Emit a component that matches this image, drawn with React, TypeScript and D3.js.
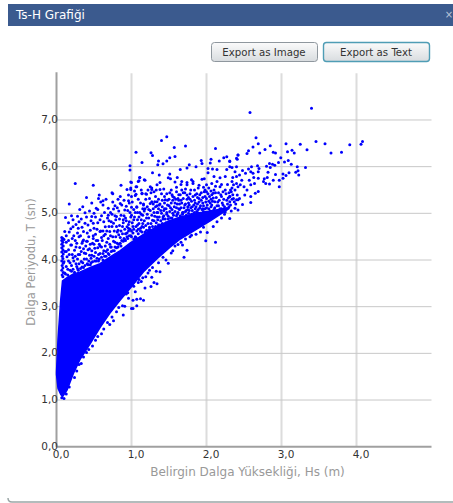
// Ts-H scatter chart
import React from 'react';
import * as d3 from 'd3';

const W = 453, H = 503;
const xTicks = [0, 1, 2, 3, 4];
const yTicks = [0, 1, 2, 3, 4, 5, 6, 7];

// --- Solid part of the cloud: too dense to read one dot at a time, so its edges are read instead ---
const coreHs = [0, 0.02, 0.056, 0.08, 0.14, 0.225, 0.31, 0.45, 0.58, 0.71, 0.85, 0.98, 1.16, 1.34, 1.51, 1.65, 1.87, 2.05, 2.3];
const coreLow = [1.55, 1.25, 1.12, 1.07, 1.21, 1.57, 1.86, 2.21, 2.55, 2.86, 3.14, 3.39, 3.75, 4.03, 4.27, 4.45, 4.66, 4.84, 5.1];
const coreHigh = [1.6, 2.3, 3.14, 3.55, 3.62, 3.7, 3.74, 3.84, 3.92, 4.06, 4.2, 4.36, 4.55, 4.72, 4.84, 4.92, 5.0, 5.05, 5.12];

// --- Single dots [Hs, T] ---
const farDots = [[2.58,7.16],[3.40,7.25],[2.66,6.62],[2.69,6.49],[2.62,6.42],[2.56,6.34],[2.54,6.28],[2.42,6.25],[2.40,6.18],[2.31,6.12],[2.78,6.37],[2.71,6.29],[2.85,6.45],[2.89,6.31],[2.92,6.29],[2.99,6.19],[2.96,6.09],[3.04,6.10],[3.06,6.49],[3.08,6.32],[3.14,6.35],[3.17,6.29],[3.09,6.13],[3.13,6.05],[3.25,6.48],[3.34,6.36],[3.46,6.54],[3.58,6.49],[3.66,6.29],[3.80,6.31],[3.91,6.47],[4.06,6.48],[4.08,6.54],[3.21,6.0],[3.32,5.98],[3.22,5.91],[3.19,5.88],[3.23,5.82],[3.10,5.87],[3.06,5.81],[3.02,5.84],[3.02,5.75],[2.97,5.71],[2.97,5.57],[2.92,5.83],[2.89,5.71],[2.84,6.07],[2.88,6.05],[2.80,6.01],[2.85,5.98],[2.91,6.03],[2.82,5.88],[2.81,5.77],[2.77,5.74],[2.84,5.63],[2.79,5.64],[2.76,5.68],[2.69,5.75],[2.70,5.96],[2.68,6.02],[2.69,5.89],[2.60,6.0],[2.56,5.95],[2.59,5.89],[2.48,5.92],[2.40,6.0],[2.31,6.0],[2.44,5.82],[2.38,5.89],[2.52,5.86],[2.62,5.86],[2.57,5.71],[2.63,5.77],[2.64,5.64],[2.59,5.61],[2.69,5.47],[2.65,5.43],[2.59,5.36],[2.59,5.23],[2.54,5.5],[2.51,5.39],[2.48,5.19],[2.45,5.61],[2.47,5.71],[2.35,5.77],[2.42,5.29],[2.50,5.57],[2.40,5.64],[2.36,5.61],[2.38,5.5],[2.33,5.46],[2.41,5.39],[2.36,5.32],[2.31,5.36],[2.37,5.25],[2.31,5.25],[2.38,5.11],[2.44,5.32]];

const upperDots = [[1.47,6.64],[1.40,6.56],[1.57,6.41],[1.72,6.44],[1.06,6.31],[1.26,6.30],[1.28,6.24],[1.14,6.09],[1.36,6.12],[1.35,6.04],[1.42,6.06],[1.47,6.12],[1.51,6.19],[1.58,6.22],[2.12,6.39],[2.06,6.16],[2.05,6.08],[2.17,6.12],[2.23,6.19],[2.27,6.21],[2.31,6.11],[2.42,6.25],[2.41,6.16],[1.93,6.13],[1.94,6.07],[1.77,6.04],[1.74,5.97],[1.86,6.0],[1.65,5.94],[2.02,5.96],[2.08,5.95],[2.14,5.94],[2.27,5.94],[2.34,5.98],[2.02,5.87],[0.98,6.02],[1.28,5.87],[1.37,5.82],[1.51,5.84],[1.49,5.76],[1.52,5.74],[1.61,5.77],[1.11,5.77],[1.18,5.71],[1.10,5.70],[0.99,5.67],[1.38,5.66],[1.34,5.61],[1.58,5.67],[1.67,5.68],[1.74,5.66],[1.82,5.68],[1.94,5.73],[1.97,5.74],[2.18,5.76],[2.10,5.79],[2.25,5.79],[2.40,5.79],[2.34,5.68],[2.14,5.68],[2.07,5.64],[1.07,5.57],[0.99,5.54],[1.25,5.57],[1.27,5.51],[1.30,5.46],[1.14,5.42],[1.19,5.42],[1.05,5.38],[1.38,5.51],[1.40,5.42],[1.51,5.44],[1.60,5.56],[1.67,5.50],[1.74,5.61],[1.82,5.64],[1.89,5.54],[2.00,5.61],[1.98,5.50],[2.18,5.57],[2.25,5.50],[2.34,5.54],[2.42,5.57],[2.09,5.43],[1.85,5.39],[1.74,5.39],[1.62,5.32],[1.45,5.29],[1.27,5.25],[1.31,5.25],[1.16,5.20],[1.0,5.13],[1.07,5.13],[1.34,5.16],[2.11,5.25],[2.31,5.36],[2.40,5.29],[2.22,5.18],[2.42,5.07],[2.31,4.89]];

const leftDots = [[0.25,5.64],[0.49,5.60],[0.86,5.60],[1.0,5.66],[0.98,5.93],[1.11,5.77],[1.17,5.72],[1.09,5.68],[1.06,5.57],[0.99,5.51],[0.94,5.51],[0.74,5.44],[0.75,5.42],[0.40,5.34],[0.57,5.39],[0.56,5.32],[0.62,5.27],[0.62,5.18],[0.85,5.36],[0.96,5.39],[1.0,5.36],[1.06,5.41],[1.14,5.43],[1.20,5.41],[1.27,5.54],[0.17,5.20],[0.96,5.27],[0.85,5.21],[0.78,5.16],[0.76,5.09],[0.69,5.11],[0.53,5.11],[0.38,5.01],[0.28,4.94],[0.12,4.91],[0.16,4.80],[0.22,4.86],[0.30,4.82],[0.22,4.71],[0.29,4.68],[0.19,4.67],[0.11,4.61],[0.36,4.61],[0.30,4.50],[0.23,4.52],[0.47,4.93],[0.49,4.79],[0.58,4.86],[0.69,4.96],[0.80,4.93],[0.91,5.07],[1.07,5.14],[1.16,5.18],[1.25,5.21],[1.34,5.25],[0.38,4.79],[0.45,4.64],[0.65,4.71],[0.76,4.79],[0.89,4.86],[1.0,4.96],[0.16,4.42],[0.20,4.32],[0.36,4.43],[0.49,4.46],[0.58,4.61],[0.71,4.61],[0.82,4.64],[0.94,4.71]];

const edgeDots = [[2.12,4.38],[1.99,4.41],[2.01,4.59],[1.70,4.06],[1.74,4.21],[1.68,4.32],[1.49,3.93],[1.46,4.0],[1.38,3.75],[1.33,3.76],[1.34,3.49],[1.30,3.52],[1.26,3.43],[1.18,3.40],[1.27,3.63],[1.19,3.64],[1.16,3.14],[1.12,3.17],[1.07,3.16],[1.07,3.02],[1.02,2.96],[1.0,2.96],[1.02,3.14],[0.89,2.82],[0.76,2.70],[0.71,2.62],[1.05,3.32],[1.13,3.54],[0.96,3.18],[0.91,3.01],[0.80,2.89],[0.60,2.42],[0.52,2.28],[0.43,2.08],[0.36,1.92],[0.30,1.76],[0.24,1.48],[0.17,1.28],[0.13,1.13],[0.10,1.03],[0.07,1.05],[1.55,4.2],[1.62,4.33],[1.8,4.53],[1.92,4.6],[2.09,4.72],[2.2,4.9],[1.24,3.78],[1.1,3.58],[0.93,3.27],[0.27,1.62],[0.33,1.78],[0.4,2.02],[0.48,2.16],[0.55,2.36],[0.63,2.52],[0.68,2.66],[0.74,2.78],[0.83,2.98],[0.88,3.02],[0.95,3.3],[1.03,3.44],[1.09,3.52],[1.15,3.62],[1.22,3.72],[1.28,3.84],[1.36,3.94],[1.42,4.06],[1.53,4.15],[1.58,4.3],[1.66,4.38],[1.72,4.45],[1.78,4.5],[1.86,4.55],[1.96,4.7],[2.14,4.82],[2.24,4.98]];

// the column of dots along the left edge
const stripDots = [[0.07,4.48],[0.085,4.46],[0.07,4.42],[0.085,4.38],[0.07,4.34],[0.09,4.3],[0.07,4.26],[0.085,4.22],[0.07,4.17],[0.09,4.13],[0.075,4.08],[0.085,4.03],[0.07,3.98],[0.09,3.93],[0.075,3.88],[0.085,3.83],[0.07,3.78],[0.09,3.73],[0.075,3.68],[0.085,3.64],[0.1,4.44],[0.11,4.18],[0.1,3.96],[0.11,3.72]];

const speckleLeft = [[0.13,4.38],[0.16,4.22],[0.14,4.07],[0.18,3.94],[0.15,3.8],[0.21,4.46],[0.24,4.21],[0.27,4.36],[0.22,4.05],[0.26,3.92],[0.2,3.76],[0.29,4.12],[0.31,4.27],[0.33,3.97],[0.28,3.82],[0.35,4.4],[0.37,4.15],[0.39,4.3],[0.34,3.85],[0.4,4.02],[0.43,4.5],[0.44,4.24],[0.42,3.9],[0.47,4.1],[0.48,4.36],[0.46,3.94],[0.51,4.25],[0.52,4.55],[0.53,3.98],[0.55,4.42],[0.56,4.12],[0.58,4.3],[0.57,4.02],[0.6,4.48],[0.62,4.0],[0.63,4.2],[0.65,4.55],[0.66,4.08],[0.67,4.38],[0.69,4.14],[0.7,4.72],[0.72,4.28],[0.73,4.18],[0.75,4.5],[0.77,4.2],[0.78,4.38],[0.8,4.26],[0.81,4.6],[0.83,4.34],[0.85,4.48],[0.86,4.3],[0.88,4.72],[0.89,4.4],[0.91,4.44],[0.92,4.56],[0.94,4.5],[0.96,4.62],[0.97,4.82],[0.99,4.52],[1.0,4.62],[0.25,4.42],[0.32,4.52],[0.41,4.4],[0.5,4.68],[0.55,4.8],[0.62,4.62],[0.68,4.9],[0.73,4.82],[0.78,4.95],[0.84,4.74],[0.9,4.95],[0.96,4.68],[0.6,4.95],[0.52,4.92],[0.42,4.75],[0.28,4.58],[0.13,4.52],[0.17,4.6],[0.34,4.7],[0.44,5.05],[0.31,5.08],[0.72,5.02],[0.83,5.05],[0.93,5.15],[1.03,4.86],[1.05,5.02],[1.1,4.92],[1.02,4.72],[1.08,4.75],[0.98,5.02]];

// second pass over the speckled band just above the solid part
const speckleDense = [[0.12,3.7],[0.13,3.86],[0.13,4.18],[0.15,3.68],[0.16,3.98],[0.17,4.12],[0.18,3.78],[0.19,4.32],[0.2,3.88],[0.21,4.12],[0.22,3.8],[0.23,3.98],[0.24,3.74],[0.25,4.08],[0.26,4.28],[0.27,3.86],[0.28,4.02],[0.29,3.78],[0.3,3.92],[0.31,4.12],[0.32,3.82],[0.33,4.18],[0.34,4.36],[0.35,3.94],[0.36,3.84],[0.36,4.24],[0.37,4.02],[0.38,3.88],[0.39,4.14],[0.4,4.4],[0.41,3.92],[0.42,4.22],[0.43,3.98],[0.44,4.1],[0.45,3.9],[0.45,4.34],[0.46,4.04],[0.47,4.2],[0.48,3.96],[0.49,4.52],[0.5,4.08],[0.5,4.34],[0.51,3.98],[0.52,4.16],[0.53,4.42],[0.54,4.04],[0.55,4.26],[0.56,3.98],[0.57,4.34],[0.58,4.14],[0.59,4.62],[0.6,4.06],[0.6,4.28],[0.61,4.42],[0.62,4.14],[0.63,4.52],[0.64,4.08],[0.65,4.3],[0.66,4.18],[0.67,4.62],[0.68,4.22],[0.69,4.46],[0.7,4.12],[0.71,4.34],[0.72,4.52],[0.73,4.28],[0.74,4.72],[0.75,4.2],[0.76,4.4],[0.77,4.62],[0.78,4.28],[0.79,4.5],[0.8,4.72],[0.81,4.36],[0.82,4.28],[0.83,4.54],[0.84,4.88],[0.85,4.36],[0.86,4.62],[0.87,4.42],[0.88,4.56],[0.89,4.8],[0.9,4.46],[0.91,4.66],[0.92,4.42],[0.93,4.84],[0.94,4.58],[0.95,4.46],[0.96,4.76],[0.97,4.52],[0.98,4.66],[0.99,4.92],[1.0,4.5],[1.01,4.8],[1.02,4.58],[1.03,4.66],[1.04,4.92],[1.05,4.5],[1.06,4.72],[1.07,4.62],[1.08,4.86],[1.09,4.56],[1.1,4.78],[1.11,5.02],[1.12,4.68],[1.13,4.86],[1.14,4.6],[1.15,4.96],[1.16,4.7],[1.17,4.84],[1.18,5.1],[1.19,4.74],[1.2,4.64],[1.21,4.98],[1.22,4.78],[1.23,4.9],[1.24,4.66],[1.25,5.06],[1.26,4.78],[1.27,4.96],[1.28,4.72],[1.29,5.1],[1.3,4.84],[1.31,4.94],[1.32,5.14],[1.33,4.8],[1.34,5.02],[1.35,4.86],[1.36,5.1],[1.37,4.92],[1.38,5.2],[1.39,4.84],[1.4,5.0],[1.41,5.14],[1.42,4.92],[1.43,5.06],[1.44,5.22],[1.45,4.88],[1.46,5.1],[1.47,5.02],[1.48,5.28],[1.49,4.94],[1.5,5.16],[1.51,5.04],[1.52,4.9],[1.53,5.22],[1.54,5.08],[1.55,5.36],[1.56,4.96],[1.57,5.14],[1.58,5.04],[1.59,5.3],[1.6,5.12],[1.61,5.2],[1.62,5.02],[1.63,5.28],[1.64,5.08],[1.65,5.4],[1.66,5.12],[1.67,5.22],[1.68,5.02],[1.69,5.32],[1.7,5.12],[1.71,5.44],[1.72,5.2],[1.73,5.06],[1.74,5.3],[1.75,5.14],[1.76,5.22],[1.77,5.06],[1.78,5.42],[1.79,5.12],[1.8,5.26],[1.81,5.06],[1.82,5.36],[1.83,5.18],[1.84,5.28],[1.85,5.1],[1.86,5.14],[1.87,5.42],[1.88,5.2],[1.89,5.08],[1.9,5.24],[1.91,5.4],[1.92,5.16],[1.93,5.28],[1.94,5.08],[1.95,5.34],[1.96,5.16],[1.97,5.46],[1.98,5.1],[1.99,5.24],[2.0,5.32],[2.01,5.18],[2.02,5.42],[2.03,5.1],[2.04,5.36],[2.05,5.22],[2.06,5.14],[2.07,5.4],[2.08,5.26],[2.1,5.5],[2.11,5.12],[2.13,5.34],[2.15,5.24],[2.18,5.1],[2.2,5.36],[2.21,5.22],[2.24,5.14],[2.27,5.28],[2.3,5.44],[2.32,5.18],[2.34,5.3]];

// third pass: looser dots higher up the band
const speckleHigh = [[0.2,4.95],[0.26,4.76],[0.33,4.88],[0.35,5.14],[0.4,4.92],[0.41,4.58],[0.46,4.84],[0.47,5.22],[0.5,5.0],[0.54,4.66],[0.55,5.08],[0.59,5.24],[0.63,4.82],[0.64,5.02],[0.66,5.3],[0.7,4.84],[0.74,4.98],[0.75,5.24],[0.79,4.86],[0.81,5.12],[0.82,5.3],[0.86,4.96],[0.87,5.18],[0.9,5.28],[0.92,4.9],[0.95,5.06],[0.97,5.22],[1.01,5.24],[1.03,5.08],[1.04,5.48],[1.08,5.02],[1.09,5.3],[1.12,5.22],[1.13,5.5],[1.15,5.1],[1.19,5.3],[1.21,5.14],[1.22,5.5],[1.24,5.32],[1.26,5.44],[1.29,5.2],[1.32,5.36],[1.33,5.5],[1.36,5.3],[1.37,5.18],[1.41,5.28],[1.43,5.52],[1.44,5.36],[1.47,5.42],[1.5,5.3],[1.53,5.5],[1.54,5.4],[1.57,5.34],[1.6,5.46],[1.63,5.4],[1.66,5.62],[1.69,5.44],[1.72,5.52],[1.76,5.34],[1.79,5.5],[1.8,5.72],[1.84,5.5],[1.88,5.34],[1.9,5.6],[1.93,5.44],[1.96,5.56],[2.0,5.46],[2.03,5.54],[2.06,5.48],[2.12,5.58],[2.16,5.44],[2.2,5.62],[2.22,5.46],[2.28,5.62],[2.32,5.5]];

const speckleMid = [[1.03,4.45],[1.06,4.48],[1.09,4.66],[1.12,4.62],[1.14,4.72],[1.15,4.78],[1.18,4.6],[1.2,4.9],[1.22,4.62],[1.24,4.7],[1.26,4.62],[1.28,4.85],[1.3,5.02],[1.32,4.72],[1.34,4.92],[1.36,4.75],[1.37,4.75],[1.39,5.06],[1.41,4.78],[1.42,4.88],[1.44,5.1],[1.46,4.8],[1.47,4.98],[1.49,4.88],[1.5,4.82],[1.52,5.12],[1.54,4.9],[1.55,5.0],[1.57,4.85],[1.58,5.22],[1.6,4.95],[1.61,4.98],[1.63,5.1],[1.65,4.95],[1.66,5.28],[1.68,4.98],[1.69,5.02],[1.71,5.18],[1.73,4.96],[1.75,5.08],[1.76,5.0],[1.78,5.3],[1.8,4.98],[1.81,5.14],[1.83,5.0],[1.85,5.22],[1.87,5.04],[1.88,5.02],[1.9,5.32],[1.91,5.12],[1.93,4.96],[1.95,5.22],[1.96,5.04],[1.98,5.36],[2.0,5.12],[2.02,4.98],[2.03,5.26],[2.05,5.05],[2.07,5.18],[2.09,5.33],[2.1,5.08],[2.12,5.44],[2.14,5.16],[2.15,5.02],[2.17,5.28],[2.19,5.4],[2.2,5.1],[2.23,5.3],[2.25,5.03],[2.26,5.42],[2.28,5.2],[2.3,5.14],[2.33,5.05],[2.35,5.4],[2.29,5.33],[2.39,5.2],[1.35,5.02],[1.55,5.28],[1.72,5.04],[1.84,5.02],[1.95,5.1],[2.06,5.3],[2.16,5.16],[2.22,5.05],[2.27,5.1],[1.13,4.98],[1.23,5.08],[1.17,5.05],[1.43,4.95],[1.64,5.2],[1.77,5.18],[1.48,5.18]];

const dots = [...farDots, ...upperDots, ...leftDots, ...edgeDots, ...stripDots, ...speckleLeft, ...speckleDense, ...speckleHigh, ...speckleMid];

// --- Scales ---
const xScale = d3.scaleLinear().domain([0, 5]).range([56.5, 431.5]);
const yScale = d3.scaleLinear().domain([0, 8]).range([446.7, 73.3]);
const fmt = (v: number) => d3.format('.1f')(v).replace('.', ',');

const corePath = d3.area<number>()
  .x(d => xScale(coreHs[d]))
  .y0(d => yScale(coreLow[d]))
  .y1(d => yScale(coreHigh[d]))(d3.range(coreHs.length)) as string;

const FONT = '"DejaVu Sans", Verdana, sans-serif';

function ExportButton({ x, w, label, active }: { x: number; w: number; label: string; active?: boolean }) {
  return (
    <g>
      <rect x={x + 0.5} y={42.5} width={w} height={19} rx={3} fill="url(#btn)" stroke={active ? '#4f9db5' : '#8f979e'} strokeWidth={active ? 1.4 : 1} />
      <text x={x + w / 2} y={56} textAnchor="middle" fontSize={10.2} fill="#333">{label}</text>
    </g>
  );
}

export default function App() {
  return (
    <svg width={W} height={H} fontFamily={FONT} style={{ position: 'absolute', left: 0, top: 0, background: '#fff' }}>
      <defs>
        <linearGradient id="btn" x1="0" x2="0" y1="0" y2="1">
          <stop offset="0" stopColor="#fbfbfb" />
          <stop offset="1" stopColor="#d8dcdf" />
        </linearGradient>
      </defs>

      {/* dialog frame */}
      <rect x={8} y={4} width={445} height={22} fill="#3b5a8e" />
      <text x={16} y={19} fontSize={12} fill="#fff">Ts-H Grafiği</text>
      <text x={449} y={18} fontSize={10} textAnchor="middle" fill="#b8c4d8">×</text>
      <path d="M8,498 Q8,502 12,502 L453,502" fill="none" stroke="#9aa6a6" strokeWidth={1.5} />

      <ExportButton x={211} w={106} label="Export as Image" />
      <ExportButton x={323} w={106} label="Export as Text" active />

      {/* grid */}
      {xTicks.slice(1).map(t => (
        <line key={t} x1={xScale(t)} x2={xScale(t)} y1={yScale(8)} y2={yScale(0)} stroke="#dcdcdc" strokeWidth={2} />
      ))}
      {yTicks.slice(1).map(t => (
        <line key={t} x1={xScale(0)} x2={xScale(5)} y1={yScale(t)} y2={yScale(t)} stroke="#c8c8c8" strokeWidth={1} />
      ))}

      {/* axes */}
      <line x1={xScale(0)} x2={xScale(0)} y1={yScale(8) - 1} y2={yScale(0)} stroke="#a0a0a0" strokeWidth={2} />
      <line x1={xScale(0)} x2={xScale(5)} y1={yScale(0)} y2={yScale(0)} stroke="#a0a0a0" strokeWidth={2} />

      {/* cloud */}
      <path d={corePath} fill="#0000ff" stroke="#0000ff" strokeWidth={1.5} />
      {dots.map(([hs, t], i) => (
        <circle key={i} cx={xScale(hs)} cy={yScale(t)} r={1.5} fill="#0000ff" />
      ))}

      {/* tick labels */}
      {xTicks.map(t => (
        <text key={t} x={xScale(t) + 4.5} y={458} textAnchor="middle" fontSize={10.5} fill="#333">{fmt(t)}</text>
      ))}
      {yTicks.map(t => (
        <text key={t} x={58} y={yScale(t) + 3} textAnchor="end" fontSize={10.5} fill="#333">{fmt(t)}</text>
      ))}

      {/* axis titles */}
      <text x={247.5} y={476} textAnchor="middle" fontSize={12} fill="#999">Belirgin Dalga Yüksekliği, Hs (m)</text>
      <text transform="translate(35,262) rotate(-90)" textAnchor="middle" fontSize={11.5} fill="#999">Dalga Periyodu, T (sn)</text>
    </svg>
  );
}
